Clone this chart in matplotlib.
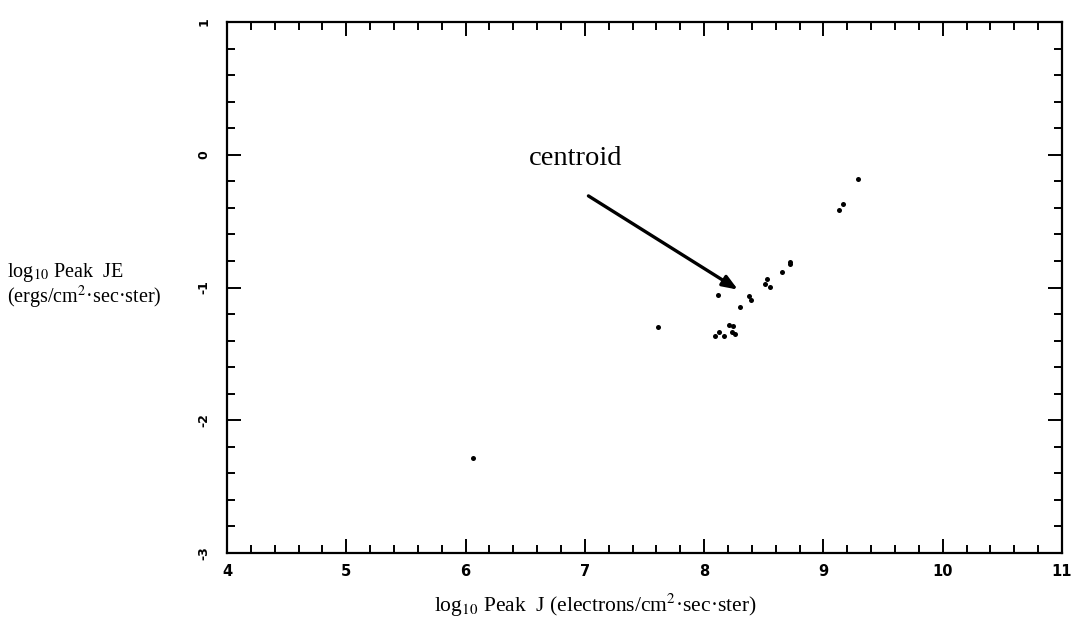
import numpy as np
import matplotlib
matplotlib.use("Agg")
import matplotlib.pyplot as plt
from matplotlib.ticker import MultipleLocator

plt.rcParams['font.family'] = ['Liberation Serif', 'DejaVu Serif']
plt.rcParams['mathtext.fontset'] = 'stix'

# log10 peak J and log10 peak JE
peak_j = [9.29, 9.165, 9.133, 8.719, 8.72, 8.655, 8.524, 8.506, 8.556,
          8.115, 8.373, 8.39, 8.303, 7.612, 8.206, 8.240, 8.123, 8.089,
          8.169, 8.233, 8.26, 6.062]
peak_je = [-0.18, -0.373, -0.415, -0.810, -0.826, -0.885, -0.934, -0.974, -0.998,
           -1.057, -1.066, -1.092, -1.144, -1.295, -1.286, -1.289, -1.338, -1.363,
           -1.367, -1.337, -1.35, -2.284]

x_ticks = [4, 5, 6, 7, 8, 9, 10, 11]
y_ticks = [-3, -2, -1, 0, 1]
y_tick_labels = ['-3', '-2', '-1', '0', '1']

centroid_tail = (7.03, -0.31)
centroid_head = (8.283, -1.016)

fig = plt.figure(figsize=(10.74, 6.34), dpi=100)
W, H = 1074, 634
left, right, top, bottom = 227, 1062, 22, 553
ax = fig.add_axes([left / W, 1 - bottom / H, (right - left) / W, (bottom - top) / H])

ax.plot(peak_j, peak_je, 'o', color='black', markersize=3.6, markeredgewidth=0)

ax.set_xlim(4, 11)
ax.set_ylim(-3, 1)
ax.set_xticks(x_ticks)
ax.set_yticks(y_ticks)
ax.set_yticklabels(y_tick_labels)
ax.xaxis.set_minor_locator(MultipleLocator(0.2))
ax.yaxis.set_minor_locator(MultipleLocator(0.2))

for s in ax.spines.values():
    s.set_linewidth(1.6)

ax.tick_params(which='both', direction='in', top=True, right=True, width=1.4)
ax.tick_params(which='major', length=10)
ax.tick_params(which='minor', length=6)
ax.tick_params(axis='x', pad=8)
ax.tick_params(axis='y', pad=12)
for lab in ax.get_xticklabels():
    lab.set_fontfamily('DejaVu Sans')
    lab.set_fontweight('bold')
    lab.set_fontsize(10.5)
for lab in ax.get_yticklabels():
    lab.set_fontfamily('DejaVu Sans')
    lab.set_fontweight('bold')
    lab.set_fontsize(9)
    lab.set_rotation(90)
    lab.set_va('center')

ax.annotate('', xy=centroid_head, xytext=centroid_tail,
            arrowprops=dict(arrowstyle='-|>,head_length=0.9,head_width=0.35',
                            color='black', lw=2.4, shrinkA=0, shrinkB=0))
ax.text(6.92, -0.03, 'centroid', fontsize=20.5, ha='center', va='center')

fig.text(7 / W, 1 - 272 / H, r'log$_{10}$ Peak  JE', fontsize=14.5,
         ha='left', va='center')
fig.text(7 / W, 1 - 297 / H, r'(ergs/cm$^{2}$·sec·ster)', fontsize=14.5,
         ha='left', va='center')
fig.text(595 / W, 1 - 605 / H, r'log$_{10}$ Peak  J (electrons/cm$^{2}$·sec·ster)',
         fontsize=15.5, ha='center', va='center')

fig.savefig('out.png', dpi=100)
